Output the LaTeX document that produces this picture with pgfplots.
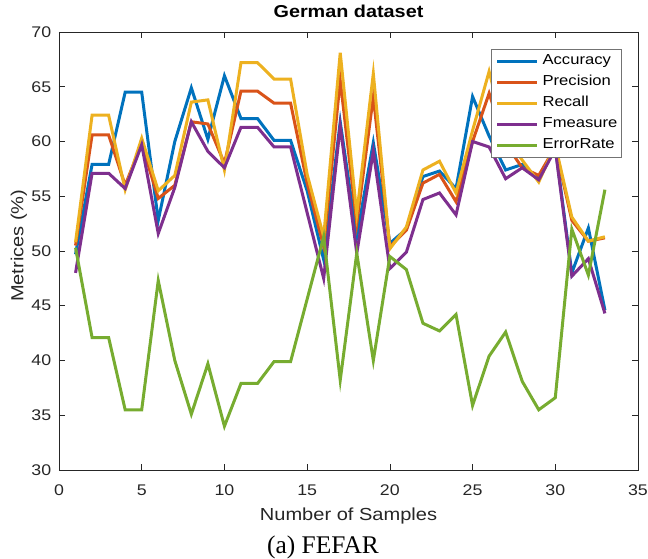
\documentclass[border=0pt]{standalone}
\usepackage{fontspec}
\setmainfont{Liberation Sans}[FakeStretch=1.15]
\newfontfamily\capfont{Liberation Serif}
\usepackage{pgfplots}
\pgfplotsset{compat=1.18}
\definecolor{mblue}{rgb}{0,0.447,0.741}
\definecolor{morange}{rgb}{0.850,0.325,0.098}
\definecolor{myellow}{rgb}{0.929,0.694,0.125}
\definecolor{mpurple}{rgb}{0.494,0.184,0.556}
\definecolor{mgreen}{rgb}{0.466,0.674,0.188}
\pgfplotstableread{
x acc prec rec fm err
1 49.7 50.5 50.8 48.0 50.3
2 57.9 60.6 62.4 57.1 42.1
3 57.9 60.6 62.4 57.1 42.1
4 64.5 56.0 55.6 55.7 35.5
5 64.5 59.8 60.3 59.7 35.5
6 52.8 54.8 55.5 51.6 47.3
7 60.0 56.0 56.9 55.8 40.0
8 64.9 61.8 63.6 61.8 35.1
9 60.2 61.6 63.8 59.1 39.7
10 66.0 58.0 57.4 57.6 34.0
11 62.1 64.6 67.2 61.3 37.9
12 62.1 64.6 67.2 61.3 37.9
13 60.1 63.5 65.7 59.5 39.9
14 60.1 63.5 65.7 59.5 39.9
15 55.5 56.2 57.0 53.5 45.6
16 49.2 50.4 51.3 47.5 51.3
17 61.8 65.6 68.1 61.4 38.2
18 51.3 52.5 53.4 49.8 49.8
19 59.9 64.1 66.2 59.1 40.0
20 50.7 50.4 50.2 48.4 49.5
21 52.0 51.9 52.2 49.9 48.3
22 56.8 56.2 57.4 54.7 43.4
23 57.3 57.0 58.2 55.3 42.7
24 55.7 54.5 55.3 53.3 44.2
25 64.1 60.0 61.0 60.0 35.9
26 60.5 64.4 66.4 59.5 40.4
27 57.4 59.8 60.5 56.6 42.6
28 57.9 57.6 58.3 57.6 38.1
29 56.6 56.9 56.3 56.5 35.5
30 59.5 59.5 59.7 59.3 36.6
31 48.0 52.8 53.1 47.7 52.0
32 52.1 50.9 50.9 49.3 47.8
33 44.6 51.2 51.3 44.3 55.6
}\data
\begin{document}
\begin{tikzpicture}
\begin{axis}[
  name=ax,
  scale only axis, width=579bp, height=438bp,
  xmin=0, xmax=35, ymin=30, ymax=70,
  xtick={0,5,...,35}, ytick={30,35,...,70},
  xtick pos=both, ytick pos=both,
  tick align=inside, major tick length=6bp,
  axis line style={black!85, line width=0.7bp},
  tick style={black!85, line width=0.7bp},
  ticklabel style={font=\fontsize{15.5}{18}\selectfont, text=black!85, inner sep=0pt},
  xticklabel style={anchor=base, yshift=-25bp},
  yticklabel style={anchor=east, xshift=-7.6bp},
  /pgf/number format/assume math mode=true,
  xlabel={Number of Samples}, ylabel={Metrices (\%)},
  label style={font=\fontsize{17.5}{20}\selectfont, text=black!85, inner sep=0pt},
  xlabel style={at={(axis description cs:0.5,-0.1158)}, anchor=base},
  ylabel style={at={(axis description cs:-0.0617,0.512)}, anchor=base},
  title={German dataset},
  title style={font=\fontsize{17.3}{20}\selectfont\bfseries, inner sep=0pt, at={(axis description cs:0.5,1)}, anchor=base, yshift=9bp},
  legend style={at={(0.972,0.961)}, anchor=north east, font=\fontsize{14.5}{17}\selectfont,
    draw=black!55, line width=0.8bp, inner xsep=4bp, inner ysep=5bp, row sep=7.5bp,
    nodes={inner sep=0pt, text height=10.5bp, text depth=3bp}},
  legend cell align=left,
  legend image code/.code={\draw[#1, line width=3bp] (0bp,0bp) -- (40bp,0bp); \path (44bp,0bp);},
  every axis plot/.append style={line width=3bp},
  clip=false,
]
\addplot[mblue] table[x=x,y=acc] {\data};
\addplot[morange] table[x=x,y=prec] {\data};
\addplot[myellow] table[x=x,y=rec] {\data};
\addplot[mpurple] table[x=x,y=fm] {\data};
\addplot[mgreen] table[x=x,y=err] {\data};
\legend{Accuracy,Precision,Recall,Fmeasure,ErrorRate}
\node[font=\capfont\fontsize{25.5}{28}\selectfont, anchor=base, inner sep=0pt] at (rel axis cs:0.456,0) [yshift=-83.3bp] {(a) FEFAR};
\end{axis}
\pgfresetboundingbox
\path ([xshift=-59bp,yshift=32bp]ax.north west) rectangle ([xshift=10bp,yshift=-89bp]ax.south east);
\end{tikzpicture}
\end{document}
